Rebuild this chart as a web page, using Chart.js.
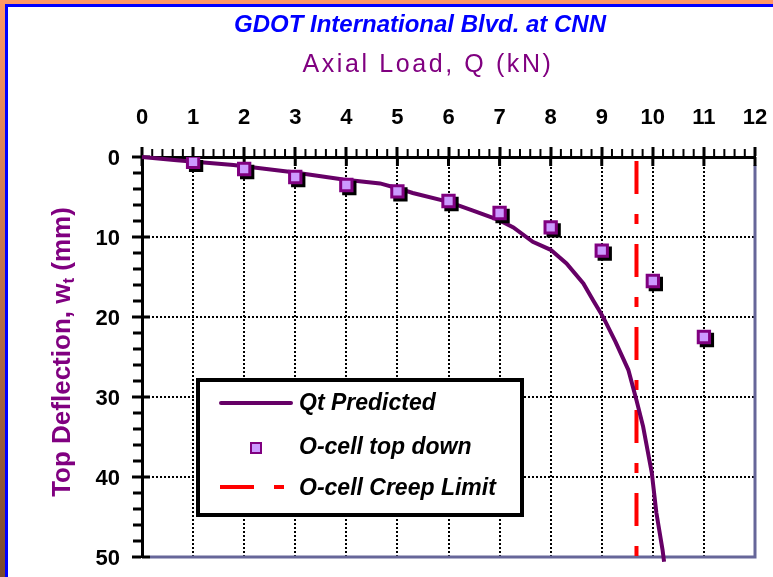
<!DOCTYPE html>
<html>
<head>
<meta charset="utf-8">
<script src="https://cdn.jsdelivr.net/npm/chart.js@4.4.1/dist/chart.umd.min.js"></script>
<style>
    body { margin: 0; background: #fff; }
    canvas { display: block; }
</style>
</head>
<body>
<canvas id="chart" width="773" height="577"></canvas>
<script>
// Qt Predicted curve (load kN, top deflection mm)
const predictedLoad = [0, 0.68, 1.79, 2.96, 3.94, 4.66, 5.0, 5.3, 6.0, 6.48, 6.99, 7.27, 7.65, 8.0, 8.31, 8.64, 8.83, 8.98, 9.05, 9.27, 9.52, 9.68, 9.81, 9.98, 10.07, 10.19, 10.22];
const predictedDefl = [0, 0.4, 1.0, 1.9, 2.8, 3.3, 3.9, 4.5, 5.6, 6.7, 7.9, 8.8, 10.6, 11.6, 13.3, 15.8, 17.9, 19.5, 20.3, 23.1, 26.6, 30.4, 33.7, 39.5, 44.5, 49.1, 50.6];

// O-cell top down points
const topDownLoad = [1, 2, 3, 4, 5, 6, 7, 8, 9, 10, 11];
const topDownDefl = [0.6, 1.5, 2.5, 3.5, 4.3, 5.5, 7.0, 8.8, 11.7, 15.5, 22.5];

// O-cell creep limit (vertical line)
const creepLoad = [9.68, 9.68];
const creepDefl = [0.5, 50];

const FONT = '"Liberation Sans", Arial, Helvetica, sans-serif';

function pairs(xs, ys) {
    const out = [];
    for (let i = 0; i < xs.length; i++) {
        out.push({ x: xs[i], y: ys[i] });
    }
    return out;
}

// frame, minor ticks, plot border, titles, legend
const decorPlugin = {
    id: 'decor',
    beforeDraw(chart) {
        const ctx = chart.ctx;
        const w = chart.width;
        const h = chart.height;
        ctx.save();
        ctx.fillStyle = '#ffffff';
        ctx.fillRect(0, 0, w, h);
        const grad = ctx.createLinearGradient(0, 0, 0, h);
        grad.addColorStop(0, '#ff9966');
        grad.addColorStop(1, '#7a4a2e');
        ctx.fillStyle = grad;
        ctx.fillRect(0, 0, 5, h);
        ctx.fillStyle = '#ff9966';
        ctx.fillRect(0, 0, w, 4);
        ctx.fillStyle = '#0000ff';
        ctx.fillRect(5, 4, w - 5, 3);
        ctx.fillRect(5, 4, 3, h - 4);
        ctx.restore();
    },
    beforeDatasetsDraw(chart) {
        const ctx = chart.ctx;
        const area = chart.chartArea;
        const xs = chart.scales.x;
        const ys = chart.scales.y;
        ctx.save();

        // bottom / right border
        ctx.strokeStyle = '#666699';
        ctx.lineWidth = 3;
        ctx.beginPath();
        ctx.moveTo(area.left + 8, area.bottom);
        ctx.lineTo(area.right, area.bottom);
        ctx.lineTo(area.right, area.top + 8);
        ctx.stroke();

        ctx.strokeStyle = '#000';
        // minor ticks on load axis
        ctx.lineWidth = 2;
        for (let i = 0; i <= 60; i++) {
            if (i % 5 === 0) continue;
            const px = xs.getPixelForValue(i / 5);
            ctx.beginPath();
            ctx.moveTo(px, area.top - 8);
            ctx.lineTo(px, area.top);
            ctx.stroke();
        }
        // major ticks crossing into the plot
        ctx.lineWidth = 3;
        for (let i = 0; i <= 12; i++) {
            const px = xs.getPixelForValue(i);
            ctx.beginPath();
            ctx.moveTo(px, area.top);
            ctx.lineTo(px, area.top + 9);
            ctx.stroke();
        }
        // minor ticks on deflection axis
        for (let v = 0; v <= 50; v += 2) {
            if (v % 10 === 0) continue;
            const py = ys.getPixelForValue(v);
            ctx.beginPath();
            ctx.moveTo(area.left - 9, py);
            ctx.lineTo(area.left, py);
            ctx.stroke();
        }
        for (let v = 0; v <= 50; v += 10) {
            const py = ys.getPixelForValue(v);
            ctx.beginPath();
            ctx.moveTo(area.left, py);
            ctx.lineTo(area.left + 8, py);
            ctx.stroke();
        }
        ctx.restore();
    },
    beforeDatasetDraw(chart, args) {
        const ds = chart.data.datasets[args.index];
        if (ds.shadow) {
            chart.ctx.save();
            chart.ctx.translate(3, 3);
        }
    },
    afterDatasetDraw(chart, args) {
        const ds = chart.data.datasets[args.index];
        if (ds.shadow) {
            chart.ctx.restore();
        }
    },
    afterDatasetsDraw(chart) {
        const ctx = chart.ctx;
        ctx.save();

        // titles
        ctx.textAlign = 'center';
        ctx.textBaseline = 'alphabetic';
        ctx.fillStyle = '#0000ff';
        ctx.font = 'italic bold 24px ' + FONT;
        ctx.fillText('GDOT International Blvd. at CNN', 420, 32);

        ctx.fillStyle = '#800080';
        ctx.font = '25px ' + FONT;
        ctx.letterSpacing = '2.6px';
        ctx.fillText('Axial Load, Q (kN)', 428, 72);
        ctx.letterSpacing = '0px';

        // y title with subscript
        ctx.save();
        ctx.translate(70, 352);
        ctx.rotate(-Math.PI / 2);
        ctx.font = 'bold 26px ' + FONT;
        const part1 = 'Top Deflection, w';
        const part3 = ' (mm)';
        const w1 = ctx.measureText(part1).width;
        const w3 = ctx.measureText(part3).width;
        ctx.font = 'bold 17px ' + FONT;
        const w2 = ctx.measureText('t').width;
        const total = w1 + w2 + w3;
        let x = -total / 2;
        ctx.textAlign = 'left';
        ctx.font = 'bold 26px ' + FONT;
        ctx.fillText(part1, x, 0);
        x += w1;
        ctx.font = 'bold 17px ' + FONT;
        ctx.fillText('t', x, 4);
        x += w2;
        ctx.font = 'bold 26px ' + FONT;
        ctx.fillText(part3, x, 0);
        ctx.restore();

        // legend box
        const lx = 198;
        const ly = 380;
        ctx.fillStyle = '#ffffff';
        ctx.fillRect(lx, ly, 324, 135);
        ctx.strokeStyle = '#000';
        ctx.lineWidth = 4;
        ctx.strokeRect(lx, ly, 324, 135);

        ctx.lineCap = 'round';
        ctx.strokeStyle = '#660066';
        ctx.lineWidth = 4;
        ctx.beginPath();
        ctx.moveTo(221, 403);
        ctx.lineTo(291, 403);
        ctx.stroke();
        ctx.lineCap = 'butt';

        ctx.fillStyle = '#cc99ff';
        ctx.fillRect(251, 443, 10, 10);
        ctx.strokeStyle = '#800080';
        ctx.lineWidth = 2;
        ctx.strokeRect(251, 443, 10, 10);

        ctx.strokeStyle = '#ff0000';
        ctx.lineWidth = 4;
        ctx.setLineDash([34, 20, 10, 100]);
        ctx.beginPath();
        ctx.moveTo(220, 487);
        ctx.lineTo(290, 487);
        ctx.stroke();
        ctx.setLineDash([]);

        ctx.fillStyle = '#000';
        ctx.textAlign = 'left';
        ctx.textBaseline = 'middle';
        ctx.font = 'italic bold 23px ' + FONT;
        ctx.fillText('Qt Predicted', 299, 404);
        ctx.fillText('O-cell top down', 299, 448);
        ctx.fillText('O-cell Creep Limit', 299, 489);
        ctx.restore();
    },
};

const ctx = document.getElementById('chart').getContext('2d');
const chart = new Chart(ctx, {
    type: 'scatter',
    data: {
        datasets: [{
            label: 'O-cell top down',
            data: pairs(topDownLoad, topDownDefl),
            pointStyle: 'rect',
            pointRadius: 8,
            backgroundColor: '#cc99ff',
            borderColor: '#800080',
            borderWidth: 3,
        }, {
            label: 'shadow',
            shadow: true,
            data: pairs(topDownLoad, topDownDefl),
            pointStyle: 'rect',
            pointRadius: 8,
            backgroundColor: '#000',
            borderColor: '#000',
            borderWidth: 3,
        }, {
            label: 'Qt Predicted',
            data: pairs(predictedLoad, predictedDefl),
            showLine: true,
            borderColor: '#660066',
            borderWidth: 4,
            pointRadius: 0,
            tension: 0,
            clip: false,
        }, {
            label: 'O-cell Creep Limit',
            data: pairs(creepLoad, creepDefl),
            showLine: true,
            borderColor: '#ff0000',
            borderWidth: 4,
            borderDash: [33, 20, 10, 20],
            pointRadius: 0,
        }],
    },
    options: {
        responsive: false,
        animation: false,
        layout: {
            padding: { top: 100, left: 0, right: 18, bottom: 20 },
        },
        plugins: {
            legend: { display: false },
            tooltip: { enabled: false },
            title: { display: false },
        },
        scales: {
            x: {
                type: 'linear',
                position: 'top',
                min: 0,
                max: 12,
                ticks: {
                    stepSize: 1,
                    color: '#000',
                    padding: 16,
                    font: { family: FONT, size: 22, weight: 'bold' },
                },
                grid: {
                    color: '#000',
                    lineWidth: 2,
                    tickLength: 10,
                    tickWidth: 3,
                    tickColor: '#000',
                },
                border: { color: '#000', width: 3, dash: [2, 2] },
                afterFit(scale) {
                    scale.height = 57;
                    scale.paddingLeft = 0;
                    scale.paddingRight = 0;
                },
            },
            y: {
                type: 'linear',
                reverse: true,
                min: 0,
                max: 50,
                ticks: {
                    stepSize: 10,
                    color: '#000',
                    padding: 12,
                    labelOffset: 2,
                    font: { family: FONT, size: 22, weight: 'bold' },
                },
                grid: {
                    color: '#000',
                    lineWidth: 2,
                    tickLength: 10,
                    tickWidth: 3,
                    tickColor: '#000',
                },
                border: { color: '#000', width: 3, dash: [2, 2] },
                afterFit(scale) {
                    scale.width = 142;
                    scale.paddingTop = 0;
                    scale.paddingBottom = 0;
                },
            },
        },
    },
    plugins: [decorPlugin],
});
</script>
</body>
</html>
